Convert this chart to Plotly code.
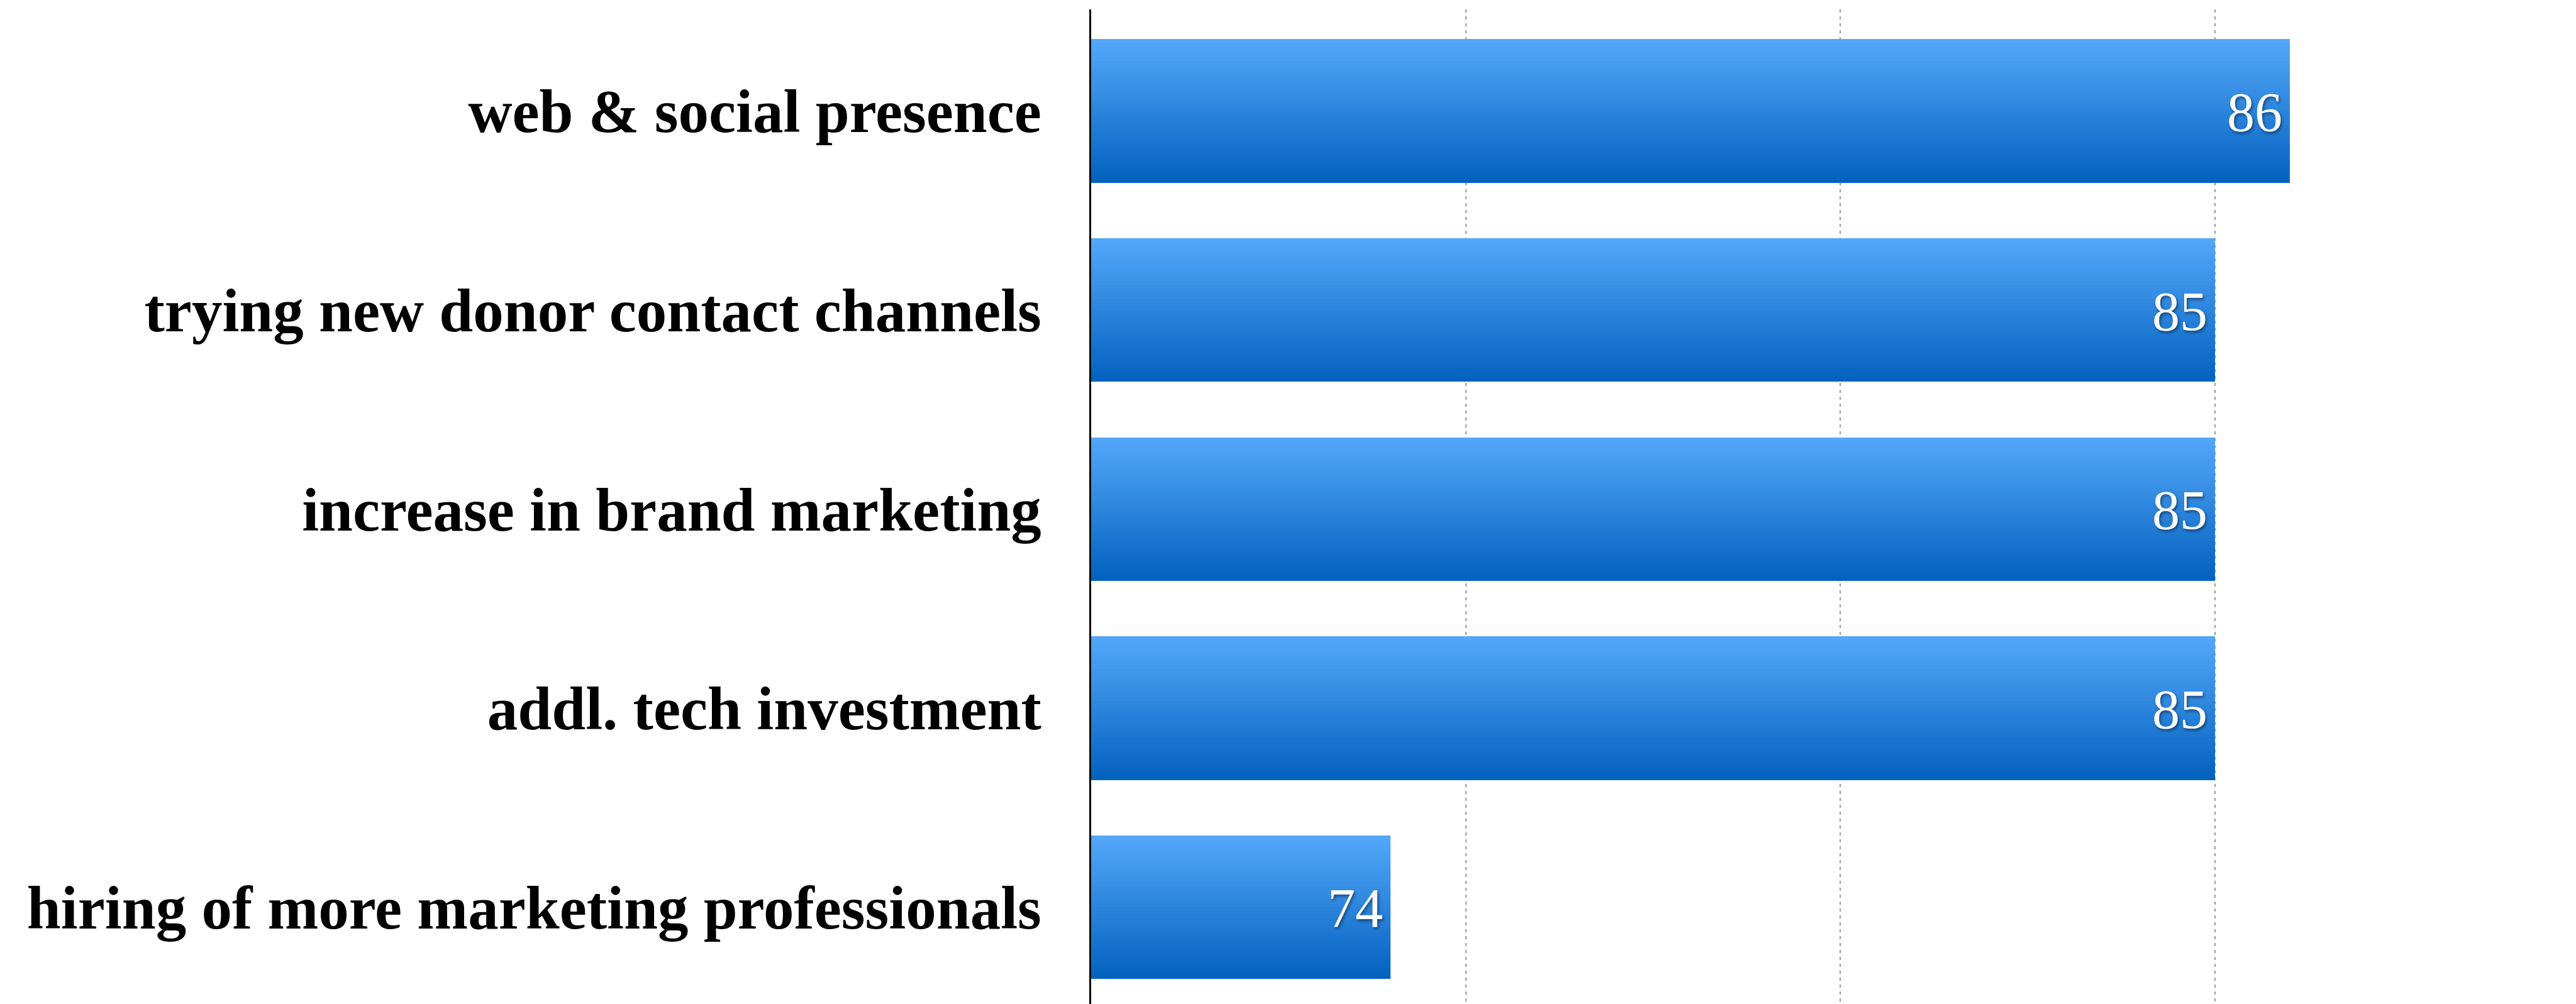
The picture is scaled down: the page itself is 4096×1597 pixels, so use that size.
import plotly.graph_objects as go

# Survey results: share of respondents planning each marketing change
categories = [
    "web & social presence",
    "trying new donor contact channels",
    "increase in brand marketing",
    "addl. tech investment",
    "hiring of more marketing professionals",
]
values = [86, 85, 85, 85, 74]

x_min, x_max = 70, 89.82
bar_width = 0.72
n_slices = 40
top_rgb = (83, 167, 249)
bottom_rgb = (4, 98, 192)

fig = go.Figure()

# Vertical gradient fill: each bar is built from thin horizontal slices
for k in range(n_slices):
    t = k / (n_slices - 1)
    r, g, b = (round(a + (c - a) * t) for a, c in zip(top_rgb, bottom_rgb))
    fig.add_trace(go.Bar(
        y=categories,
        x=values,
        orientation="h",
        width=bar_width / n_slices * 1.08,
        offset=-bar_width / 2 + k * bar_width / n_slices,
        marker=dict(color=f"rgb({r},{g},{b})", line=dict(width=0)),
        hoverinfo="skip",
        showlegend=False,
    ))

# Value labels at the inner end of each bar
for cat, val in zip(categories, values):
    fig.add_annotation(
        x=val, y=cat, text=str(val),
        xanchor="right", yanchor="middle", xshift=-10, yshift=-2,
        showarrow=False,
        font=dict(family="Liberation Serif", size=88, color="white",
                  shadow="2px 3px 4px rgba(0,0,0,0.45)"),
    )

fig.update_layout(
    width=4096, height=1597,
    margin=dict(l=1735, r=0, t=15, b=0),
    paper_bgcolor="white", plot_bgcolor="white",
    barmode="overlay",
    bargap=0,
    showlegend=False,
    xaxis=dict(
        range=[x_min, x_max],
        tick0=70, dtick=5,
        showticklabels=False,
        ticks="",
        showgrid=True, gridcolor="#9a9a9a", gridwidth=1.5, griddash="5px,6px",
        zeroline=False, showline=False,
    ),
    yaxis=dict(
        type="category",
        categoryorder="array", categoryarray=categories,
        range=[4.487, -0.510],
        showgrid=False, zeroline=False,
        showline=True, linecolor="black", linewidth=2.5,
        ticks="", ticklabelstandoff=57,
        tickfont=dict(family="Liberation Serif", size=97, color="black", weight=700),
    ),
)

fig.write_html("out.html")
